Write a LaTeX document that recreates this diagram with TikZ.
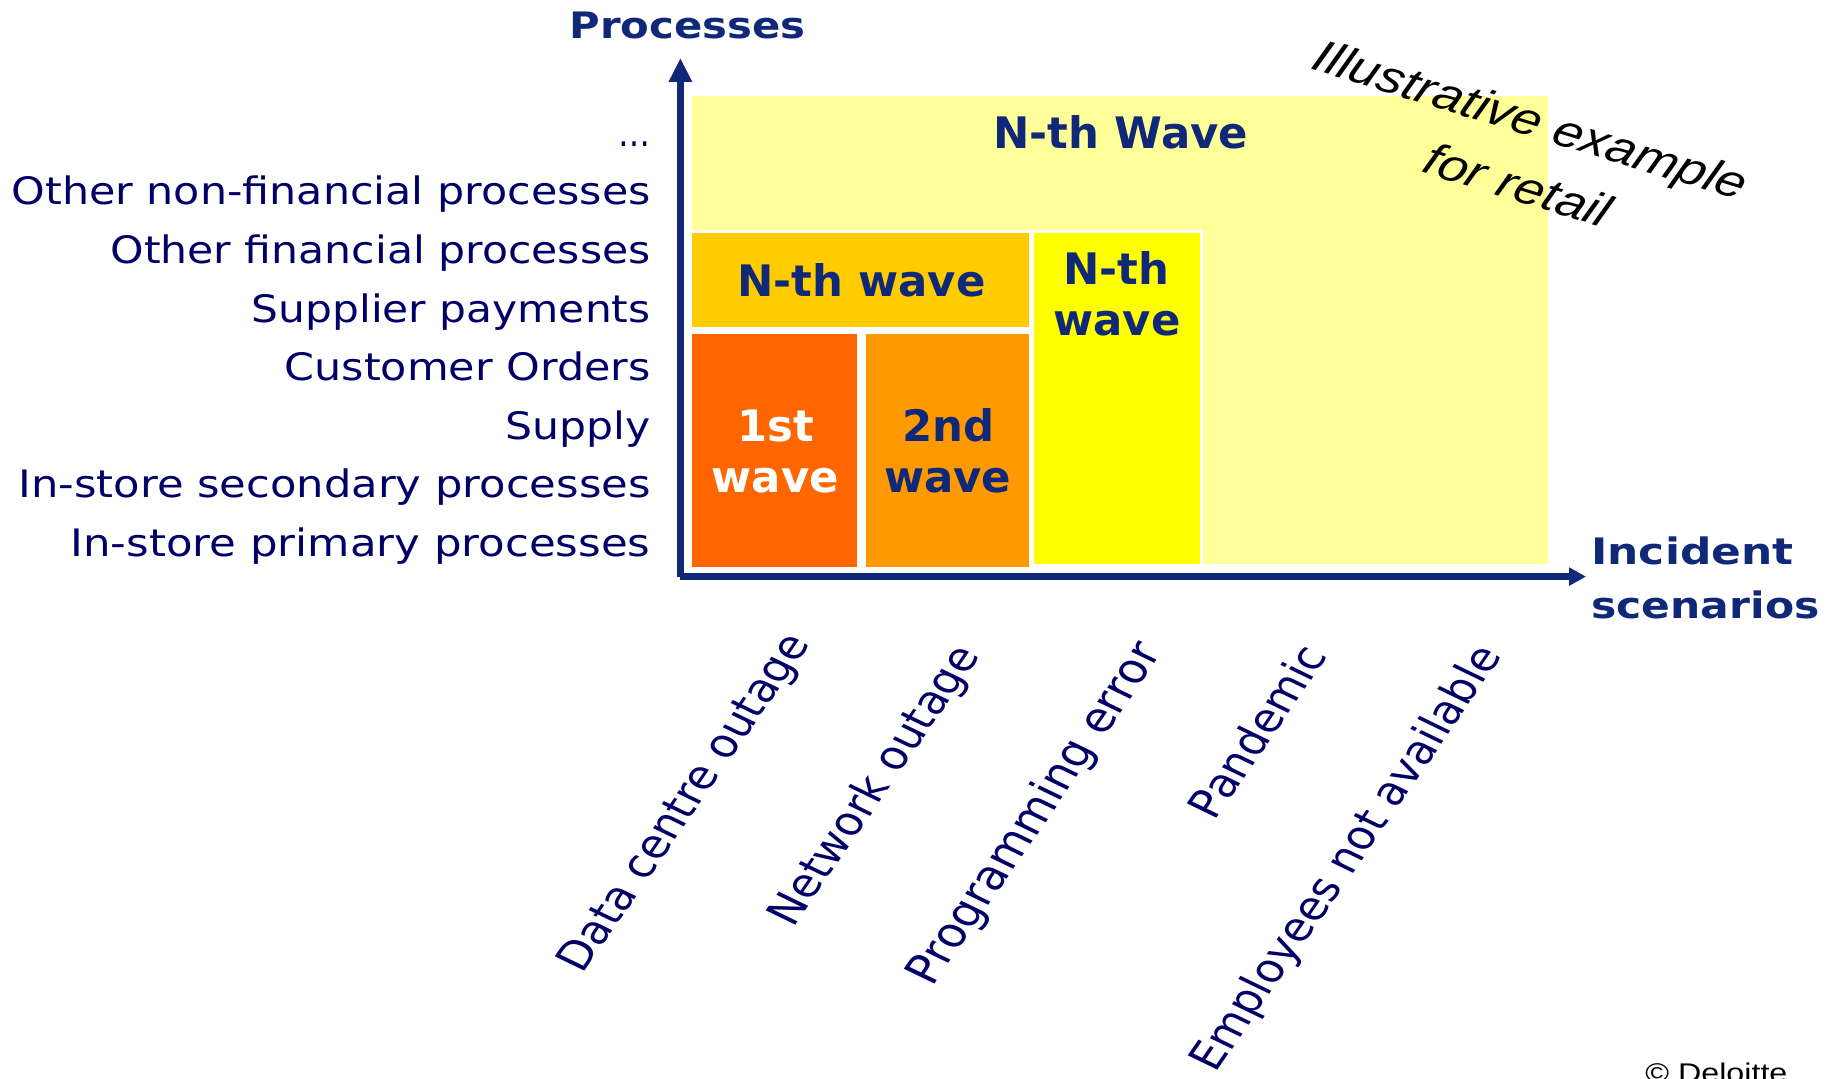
\documentclass[tikz,border=0pt]{standalone}
\usepackage{fontspec}
\usepackage{graphicx}
\usetikzlibrary{arrows.meta}
\setmainfont{DejaVu Sans}
\newfontfamily\lblfont{DejaVu Sans}[FakeStretch=1.12]
\newfontfamily\titlefont{DejaVu Sans Bold}[FakeStretch=1.19]
\newfontfamily\notefont{Liberation Sans}
\definecolor{axisnavy}{RGB}{16,40,120}
\definecolor{labelnavy}{RGB}{0,0,102}
\definecolor{paleyellow}{RGB}{255,255,153}
\definecolor{goldbar}{RGB}{255,204,0}
\definecolor{firstwave}{RGB}{255,102,0}
\definecolor{secondwave}{RGB}{255,153,0}
\definecolor{brightyellow}{RGB}{255,255,0}
% stretch a piece of text horizontally to a given width
\newcommand{\hfit}[2]{\resizebox{#1}{\height}{#2}}
\begin{document}
\begin{tikzpicture}[x=0.5pt,y=-0.5pt,
  axis/.style={draw=axisnavy, line width=3.4pt},
  lbl/.style={anchor=base east, inner sep=0pt, text=labelnavy,
    font=\lblfont\fontsize{18.9pt}{22pt}\selectfont},
  wavetxt/.style={anchor=base, inner sep=0pt, text=axisnavy,
    font=\bfseries\fontsize{21.7pt}{26pt}\selectfont},
  axtitle/.style={inner sep=0pt, text=axisnavy,
    font=\titlefont\fontsize{18.2pt}{21pt}\selectfont},
  scen/.style={anchor=base east, inner sep=0pt, text=labelnavy,
    font=\fontsize{19.7pt}{23pt}\selectfont,
    cm={0.595,0.866,-1.0306,0.5,(0,0)}},
]
\path[use as bounding box] (0,0) rectangle (1841,1079);
\clip (0,0) rectangle (1841,1079);
\fill[white] (0,0) rectangle (1841,1079);

% wave areas
\fill[paleyellow] (691.6,96) rectangle (1548,564);
\fill[white] (689,230) rectangle (1031.5,570);
\fill[white] (1031.5,230) rectangle (1202.5,566.5);
\fill[goldbar] (692,233) rectangle (1029,327);
\fill[firstwave] (692,334) rectangle (856.5,567);
\fill[secondwave] (865.5,334) rectangle (1029,567);
\fill[brightyellow] (1034,233) rectangle (1199.6,564);

% axes
\coordinate (origin) at (680.4,576.6);
\coordinate (ytip) at (680.4,58);
\coordinate (xtip) at (1586,576.6);
\draw[axis, -{Triangle[length=12pt,width=11pt]}] (origin) -- (ytip);
\draw[axis, -{Triangle[length=8.5pt,width=8.7pt]}] (origin) -- (xtip);

% axis titles
\node[axtitle, anchor=base] (ytitle) at (687.5,38.3) {\hfit{118pt}{Processes}};
\node[axtitle, anchor=base west] (xtitle1) at (1591,565) {\hfit{101pt}{Incident}};
\node[axtitle, anchor=base west] (xtitle2) at (1591,618) {\hfit{114pt}{scenarios}};

% wave labels
\node[wavetxt] (nthtop) at (1120.8,148.3) {N-th Wave};
\node[wavetxt] (nthbar) at (861.5,296.4) {N-th wave};
\node[wavetxt] (nthcol1) at (1116.5,284.6) {N-th};
\node[wavetxt] (nthcol2) at (1117,335.7) {wave};
\node[wavetxt, text=white] (first1) at (776,441.8) {1st};
\node[wavetxt, text=white] (first2) at (775.4,492.9) {wave};
\node[wavetxt] (second1) at (948.4,441.8) {2nd};
\node[wavetxt] (second2) at (947.8,493) {wave};

% processes
\node[lbl] (p0) at (651,146.4) {\hfit{16pt}{…}};
\node[lbl] (p1) at (651,205) {\hfit{319.5pt}{Other non-financial processes}};
\node[lbl] (p2) at (651,263.6) {\hfit{270pt}{Other financial processes}};
\node[lbl] (p3) at (651,322.2) {\hfit{199.5pt}{Supplier payments}};
\node[lbl] (p4) at (651,380.8) {\hfit{183pt}{Customer Orders}};
\node[lbl] (p5) at (651,439.4) {\hfit{72.5pt}{Supply}};
\node[lbl] (p6) at (651,498) {\hfit{316pt}{In-store secondary processes}};
\node[lbl] (p7) at (651,556.6) {\hfit{290pt}{In-store primary processes}};

% incident scenarios
\node[scen] (s1) at (811,643) {Data centre outage};
\node[scen] (s2) at (981,655) {Network outage};
\node[scen, font=\fontsize{20.4pt}{23pt}\selectfont] (s3) at (1163,652) {Programming error};
\node[scen] (s4) at (1329,655) {Pandemic};
\node[scen] (s5) at (1503,655) {Employees not available};

% note and credit
\node[inner sep=0pt, align=center,
  font=\notefont\itshape\fontsize{22.5pt}{32.5pt}\selectfont,
  cm={1.1182,-0.342,0.407,0.9397,(0,0)}] (note) at (1518,150)
  {Illustrative example\\\hspace*{12pt}for retail};
\node[anchor=base west, inner sep=0pt,
  font=\notefont\fontsize{13.5pt}{16pt}\selectfont] (credit) at (1645,1082)
  {\hfit{71pt}{© Deloitte}};
\end{tikzpicture}
\end{document}
